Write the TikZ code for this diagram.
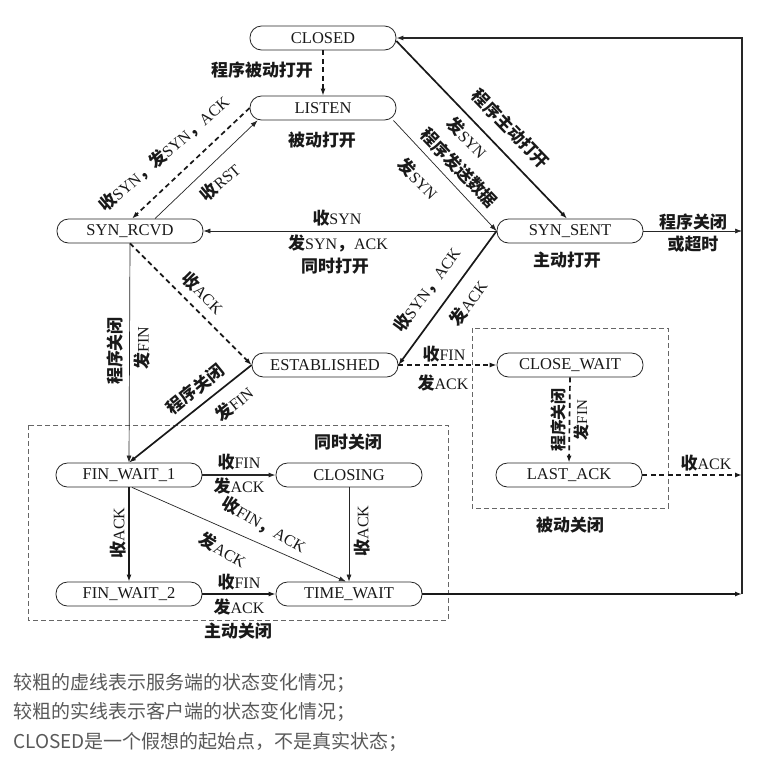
\documentclass[tikz,border=0pt]{standalone}
\usepackage{fontspec}
\setmainfont{Liberation Serif}
\newfontfamily\cjkfam[Scale=1.06]{Noto Sans CJK SC}
\newcommand{\cjk}{\cjkfam\bfseries}
\newfontfamily\notefont{Noto Sans CJK SC}
\usetikzlibrary{arrows.meta}
\begin{document}
\begin{tikzpicture}[x=1pt,y=-1pt,
  st/.style={draw=black!85, line width=0.8pt, rounded corners=11.5pt,
    minimum width=146pt, minimum height=24pt, inner sep=0pt,
    font=\fontsize{16.5}{16.5}\selectfont, text=black!90},
  lab/.style={font=\fontsize{16}{16}\selectfont, inner sep=0pt, text=black!90},
  tip/.style={-{Latex[length=7pt,width=5pt]}},
  ln/.style={tip, line width=0.7pt, draw=black!85},
  mid/.style={tip, line width=1.1pt, draw=black!85},
  thk/.style={tip, line width=1.7pt, draw=black!90},
  dsh/.style={tip, line width=1.7pt, draw=black!90, dash pattern=on 5pt off 3.5pt},
  grp/.style={draw=black!60, line width=0.8pt, dash pattern=on 5pt off 3pt},
  note/.style={font=\notefont\fontsize{19}{19}\selectfont, text=black!65, inner sep=0pt, anchor=west}
  ]
\useasboundingbox (0,0) rectangle (775,769);
\fill[white] (0,0) rectangle (775,769);

% groups
\draw[grp] (28,425) rectangle (448,620);
\draw[grp] (472,328) rectangle (668,508);

% states
\node[st] (closed) at (323,38) {CLOSED};
\node[st] (listen) at (323,108) {LISTEN};
\node[st] (rcvd) at (130,231) {SYN\_RCVD};
\node[st] (sent) at (570,231) {SYN\_SENT};
\node[st] (est) at (325,365) {ESTABLISHED};
\node[st] (cw) at (570,365) {CLOSE\_WAIT};
\node[st] (la) at (569,475) {LAST\_ACK};
\node[st] (fw1) at (129,475) {FIN\_WAIT\_1};
\node[st] (closing) at (349,475) {CLOSING};
\node[st] (fw2) at (129,594) {FIN\_WAIT\_2};
\node[st] (tw) at (349,594) {TIME\_WAIT};

\coordinate (rtop) at (742,38);
\coordinate (rsent) at (742,231);
\coordinate (rla) at (742,475);
\coordinate (rbot) at (742,594);

% transitions
\draw[dsh] (closed) -- (listen);
\draw[dsh] (listen.west) -- ([xshift=2pt]rcvd.north);
\draw[ln] ([xshift=25pt]rcvd.north) -- ([xshift=8pt]listen.south west);
\draw[ln] ([xshift=-3pt]listen.south east) -- (sent.west);
\draw[thk] ([yshift=-3pt]closed.east) -- ([xshift=-3pt]sent.north);
\draw[ln] (sent.west) -- (rcvd.east);
\draw[thk] (sent.west) -- (est.east);
\draw[dsh] (rcvd.south) -- (est.west);
\draw[ln] (rcvd.south) -- (fw1.north);
\draw[thk] (est.west) -- (fw1.north);
\draw[dsh] (est.east) -- (cw.west);
\draw[dsh] (cw.south) -- (la.north);
\draw[dsh] (la.east) -- (rla);
\draw[ln] (sent.east) -- (rsent);
\draw[mid] (fw1.east) -- (closing.west);
\draw[thk] (fw1.south) -- (fw2.north);
\draw[ln] ([xshift=3pt]fw1.south) -- ([xshift=-3pt]tw.north);
\draw[ln] (closing.south) -- (tw.north);
\draw[thk] (fw2.east) -- (tw.west);
\draw[thk] (tw.east) -- (rbot);
\draw[mid] (rbot) -- (rtop) -- (closed.east);

% labels
\node[lab] (l1) at (262,70) {\cjk 程序被动打开};
\node[lab] (l2) at (322,140) {\cjk 被动打开};
\node[lab, rotate=41] (l3) at (164,154) {{\cjk 收}SYN{\cjk ，发}SYN{\cjk ，}ACK};
\node[lab, rotate=41] (l4) at (220,182) {{\cjk 收}RST};
\node[lab, rotate=-46] (l5) at (511,129) {\cjk 程序主动打开};
\node[lab, rotate=-46] (l6) at (467,138) {{\cjk 发}SYN};
\node[lab, rotate=-46] (l7) at (459,168) {\cjk 程序发送数据};
\node[lab, rotate=-46] (l8) at (418,179) {{\cjk 发}SYN};
\node[lab] (l9) at (337,218) {{\cjk 收}SYN};
\node[lab] (l10) at (338,243) {{\cjk 发}SYN{\cjk ，}ACK};
\node[lab] (l11) at (335,266) {\cjk 同时打开};
\node[lab] (l12) at (567,260) {\cjk 主动打开};
\node[lab] (l13) at (693,222) {\cjk 程序关闭};
\node[lab] (l14) at (693,244) {\cjk 或超时};
\node[lab, rotate=54] (l15) at (427,290) {{\cjk 收}SYN{\cjk ，}ACK};
\node[lab, rotate=54] (l16) at (468,303) {{\cjk 发}ACK};
\node[lab, rotate=-45] (l17) at (203,293) {{\cjk 收}ACK};
\node[lab, rotate=90] (l18) at (115,351) {\cjk 程序关闭};
\node[lab, rotate=90] (l19) at (142,348) {{\cjk 发}FIN};
\node[lab, rotate=39] (l20) at (195,389) {\cjk 程序关闭};
\node[lab, rotate=39] (l21) at (234,404) {{\cjk 发}FIN};
\node[lab] (l22) at (444,354) {{\cjk 收}FIN};
\node[lab] (l23) at (443,383) {{\cjk 发}ACK};
\node[lab, rotate=90, font=\fontsize{15}{15}\selectfont] (l24) at (558,420) {\cjk 程序关闭};
\node[lab, rotate=90, font=\fontsize{15}{15}\selectfont] (l25) at (581,420) {{\cjk 发}FIN};
\node[lab] (l26) at (706,463) {{\cjk 收}ACK};
\node[lab] (l27) at (570,525) {\cjk 被动关闭};
\node[lab] (l28) at (348,442) {\cjk 同时关闭};
\node[lab] (l29) at (239,462) {{\cjk 收}FIN};
\node[lab] (l30) at (239,486) {{\cjk 发}ACK};
\node[lab, rotate=90] (l31) at (118,533) {{\cjk 收}ACK};
\node[lab, rotate=-30] (l32) at (264,525) {{\cjk 收}FIN{\cjk ，}ACK};
\node[lab, rotate=-30] (l33) at (223,550) {{\cjk 发}ACK};
\node[lab, rotate=90] (l34) at (362,531) {{\cjk 收}ACK};
\node[lab] (l35) at (239,582) {{\cjk 收}FIN};
\node[lab] (l36) at (239,607) {{\cjk 发}ACK};
\node[lab] (l37) at (238,631) {\cjk 主动关闭};

% notes
\node[note] (n1) at (13,683) {较粗的虚线表示服务端的状态变化情况；};
\node[note] (n2) at (13,712) {较粗的实线表示客户端的状态变化情况；};
\node[note] (n3) at (13,742) {CLOSED是一个假想的起始点，不是真实状态；};
\end{tikzpicture}
\end{document}
